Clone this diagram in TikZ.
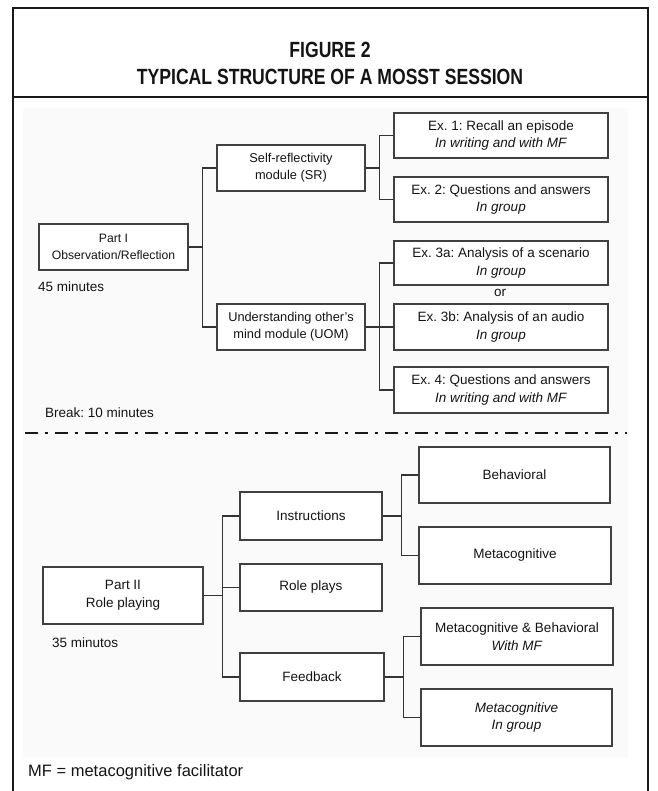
\documentclass[tikz,border=0pt]{standalone}
\usepackage{fontspec}
\setmainfont{Liberation Sans}
\newfontfamily\titlefont[FakeStretch=0.8]{Liberation Sans}
\frenchspacing
\begin{document}
\frenchspacing
\begin{tikzpicture}[x=1pt,y=-1pt,
  box/.style={draw=black!75, line width=1.2pt, fill=white, align=center, inner sep=0pt,
    text=black!92, font=\fontsize{13.5}{17.5}\selectfont},
  small/.style={font=\fontsize{12.8}{17}\selectfont},
  smaller/.style={font=\fontsize{12.2}{17}\selectfont},
  conn/.style={draw=black!80, line width=1.3pt},
  lbl/.style={anchor=west, inner sep=0pt, text=black!92, font=\fontsize{13.5}{16}\selectfont},
  frame/.style={draw=black!90, line width=2.2pt},
  sep/.style={draw=black!90, line width=2.7pt, dash pattern=on 13pt off 6.5pt on 3.5pt off 7pt},
  ttl/.style={inner sep=0pt, text=black!92, font=\titlefont\bfseries\fontsize{22}{26}\selectfont}
]
\useasboundingbox (0,0) rectangle (657,791);
\fill[black!2] (23,108) rectangle (628,757);
% frame
\draw[frame] (13,791) -- (13,8) -- (648,8) -- (648,791);
\draw[frame] (13,97) -- (648,97);
% title
\node[ttl] (t1) at (330,50) {FIGURE 2};
\node[ttl] (t2) at (330,77) {TYPICAL STRUCTURE OF A MOSST SESSION};

% ---------- Part I ----------
\node[box, smaller, minimum width=149pt, minimum height=46pt] (p1) at (113.5,247) {Part I\\Observation/Reflection};
\node[box, small, minimum width=148pt, minimum height=46pt] (sr) at (291,168) {Self-reflectivity\\module (SR)};
\node[box, small, minimum width=148pt, minimum height=46pt] (uom) at (291,327) {Understanding other's\\mind module (UOM)};
\node[box, minimum width=214pt, minimum height=45pt] (ex1) at (501,135.5) {Ex. 1: Recall an episode\\\textit{In writing and with MF}};
\node[box, minimum width=214pt, minimum height=45pt] (ex2) at (501,199.5) {Ex. 2: Questions and answers\\\textit{In group}};
\node[box, minimum width=214pt, minimum height=44pt] (ex3a) at (501,263) {Ex. 3a: Analysis of a scenario\\\textit{In group}};
\node[box, minimum width=214pt, minimum height=46pt] (ex3b) at (501,327) {Ex. 3b: Analysis of an audio\\\textit{In group}};
\node[box, minimum width=214pt, minimum height=46pt] (ex4) at (501,390) {Ex. 4: Questions and answers\\\textit{In writing and with MF}};
\node[inner sep=0pt, text=black!92, font=\fontsize{13.5}{16}\selectfont] (or) at (500,293) {or};

\node[lbl] (m45) at (38,287) {45 minutes};
\node[lbl] (brk) at (45,413) {Break: 10 minutes};

\draw[conn] (p1.east) -- ++(14,0) coordinate (j1);
\draw[conn] (sr.west) -| (j1) |- (uom.west);
\draw[conn] (sr.east) -- ++(14,0) coordinate (j2);
\draw[conn] (ex1.west) -| (j2) |- (ex2.west);
\draw[conn] (uom.east) -- ++(14,0) coordinate (j3);
\draw[conn] (ex3a.west) -| (j3) |- (ex4.west);
\draw[conn] (j3) -- (ex3b.west);

% separator
\coordinate (sepL) at (25,433);
\coordinate (sepR) at (627,433);
\draw[sep] (sepL) -- (sepR);

% ---------- Part II ----------
\node[box, minimum width=160pt, minimum height=57pt] (p2) at (123,595.5) {Part II\\Role playing};
\node[box, minimum width=142pt, minimum height=48pt] (ins) at (311,516) {Instructions};
\node[box, minimum width=142pt, minimum height=47pt] (rp) at (311,587.5) {Role plays};
\node[box, minimum width=144pt, minimum height=48pt] (fb) at (312,677) {Feedback};
\node[box, minimum width=191pt, minimum height=56pt] (beh) at (514.5,475) {Behavioral};
\node[box, minimum width=192pt, minimum height=57pt] (met) at (515,555.5) {Metacognitive};
\node[box, minimum width=192pt, minimum height=57pt] (mb) at (517,636.5) {Metacognitive \& Behavioral\\\textit{With MF}};
\node[box, minimum width=191pt, minimum height=57pt] (mg) at (516.5,717.5) {\textit{Metacognitive}\\\textit{In group}};

\node[lbl] (m35) at (52,643) {35 minutos};
\node[lbl, font=\fontsize{16.5}{19}\selectfont] (mf) at (28,772) {MF = metacognitive facilitator};

\draw[conn] (p2.east) -- ++(19,0) coordinate (j4);
\draw[conn] (ins.west) -| (j4) |- (fb.west);
\draw[conn] (j4 |- rp.west) -- (rp.west);
\draw[conn] (ins.east) -- ++(19,0) coordinate (j5);
\draw[conn] (beh.west) -| (j5) |- (met.west);
\draw[conn] (fb.east) -- ++(19,0) coordinate (j6);
\draw[conn] (mb.west) -| (j6) |- (mg.west);
\end{tikzpicture}
\end{document}
